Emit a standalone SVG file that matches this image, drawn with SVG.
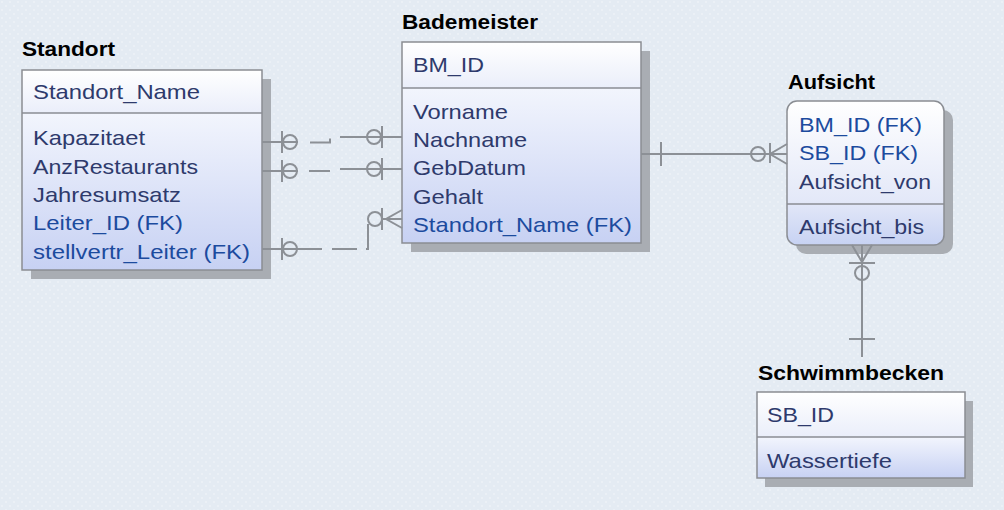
<svg xmlns="http://www.w3.org/2000/svg" width="1004" height="510" viewBox="0 0 1004 510">
<defs>
<pattern id="dots" width="8" height="8" patternUnits="userSpaceOnUse">
<rect width="8" height="8" fill="#e4ebf3"/>
<circle cx="2" cy="2" r="1.2" fill="#ecf1f7"/>
<circle cx="6" cy="6" r="1.2" fill="#ecf1f7"/>
</pattern>
<linearGradient id="hdr" x1="0" y1="0" x2="0" y2="1">
<stop offset="0" stop-color="#ffffff"/>
<stop offset="1" stop-color="#eaeefa"/>
</linearGradient>
<linearGradient id="body" x1="0" y1="0" x2="0" y2="1">
<stop offset="0" stop-color="#f2f5fd"/>
<stop offset="1" stop-color="#c7d1f3"/>
</linearGradient>
<linearGradient id="aufs" x1="0" y1="0" x2="0" y2="1">
<stop offset="0" stop-color="#ffffff"/>
<stop offset="0.7" stop-color="#e3e8f8"/>
<stop offset="1" stop-color="#c7d2f3"/>
</linearGradient>
</defs>
<style>
.shadow{fill:#a9adb3}
.box{stroke:#8a8d93;stroke-width:1.5}
.div{stroke:#8a8d93;stroke-width:1.5}
.title{font-family:"Liberation Sans",Arial,sans-serif;font-weight:bold;font-size:20px;fill:#000}
.att{font-family:"Liberation Sans",Arial,sans-serif;font-size:21px;fill:#2e3a6c}
.fk{fill:#1c4b9e}
.cn{fill:none;stroke:#8c9096;stroke-width:2}
</style>
<rect width="1004" height="510" fill="url(#dots)"/>

<g id="Standort">
<rect class="shadow" x="31" y="79" width="240" height="200"/>
<rect x="22" y="70" width="240" height="43" fill="url(#hdr)"/>
<rect x="22" y="113" width="240" height="157" fill="url(#body)"/>
<rect class="box" x="22" y="70" width="240" height="200" fill="none"/>
<line class="div" x1="22" y1="113" x2="262" y2="113"/>
<text class="title" x="22" y="56" textLength="93" lengthAdjust="spacingAndGlyphs">Standort</text>
<text class="att" x="33" y="99" textLength="167" lengthAdjust="spacingAndGlyphs">Standort_Name</text>
<text class="att" x="33" y="145" textLength="112" lengthAdjust="spacingAndGlyphs">Kapazitaet</text>
<text class="att" x="33" y="173.5" textLength="165" lengthAdjust="spacingAndGlyphs">AnzRestaurants</text>
<text class="att" x="33" y="202" textLength="148" lengthAdjust="spacingAndGlyphs">Jahresumsatz</text>
<text class="att fk" x="33" y="230" textLength="150" lengthAdjust="spacingAndGlyphs">Leiter_ID (FK)</text>
<text class="att fk" x="33" y="258.5" textLength="217" lengthAdjust="spacingAndGlyphs">stellvertr_Leiter (FK)</text>
</g>

<g id="Bademeister">
<rect class="shadow" x="411" y="51" width="239" height="201"/>
<rect x="402" y="42" width="239" height="46" fill="url(#hdr)"/>
<rect x="402" y="88" width="239" height="155" fill="url(#body)"/>
<rect class="box" x="402" y="42" width="239" height="201" fill="none"/>
<line class="div" x1="402" y1="88" x2="641" y2="88"/>
<text class="title" x="402" y="29" textLength="136" lengthAdjust="spacingAndGlyphs">Bademeister</text>
<text class="att" x="413" y="72" textLength="71" lengthAdjust="spacingAndGlyphs">BM_ID</text>
<text class="att" x="413" y="118.5" textLength="95" lengthAdjust="spacingAndGlyphs">Vorname</text>
<text class="att" x="413" y="147" textLength="114" lengthAdjust="spacingAndGlyphs">Nachname</text>
<text class="att" x="413" y="175" textLength="113" lengthAdjust="spacingAndGlyphs">GebDatum</text>
<text class="att" x="413" y="203.5" textLength="70" lengthAdjust="spacingAndGlyphs">Gehalt</text>
<text class="att fk" x="413" y="232" textLength="219" lengthAdjust="spacingAndGlyphs">Standort_Name (FK)</text>
</g>

<g id="Aufsicht">
<rect class="shadow" x="796" y="110" width="157" height="144" rx="10"/>
<rect class="box" x="787" y="101" width="157" height="144" rx="10" fill="url(#aufs)"/>
<line class="div" x1="787" y1="204" x2="944" y2="204"/>
<text class="title" x="788" y="89" textLength="87" lengthAdjust="spacingAndGlyphs">Aufsicht</text>
<text class="att fk" x="799" y="131.5" textLength="123" lengthAdjust="spacingAndGlyphs">BM_ID (FK)</text>
<text class="att fk" x="799" y="160" textLength="119" lengthAdjust="spacingAndGlyphs">SB_ID (FK)</text>
<text class="att" x="799" y="188.5" textLength="132" lengthAdjust="spacingAndGlyphs">Aufsicht_von</text>
<text class="att" x="799" y="234" textLength="125" lengthAdjust="spacingAndGlyphs">Aufsicht_bis</text>
</g>

<g id="Schwimmbecken">
<rect class="shadow" x="765" y="401" width="208" height="86"/>
<rect x="757" y="392" width="208" height="45" fill="url(#hdr)"/>
<rect x="757" y="437" width="208" height="41" fill="url(#body)"/>
<rect class="box" x="757" y="392" width="208" height="86" fill="none"/>
<line class="div" x1="757" y1="437" x2="965" y2="437"/>
<text class="title" x="758" y="379.5" textLength="186" lengthAdjust="spacingAndGlyphs">Schwimmbecken</text>
<text class="att" x="767" y="421.5" textLength="67" lengthAdjust="spacingAndGlyphs">SB_ID</text>
<text class="att" x="767" y="467.5" textLength="125" lengthAdjust="spacingAndGlyphs">Wassertiefe</text>
</g>

<g id="connectors">
<g id="c-bm-aufsicht">
<path class="cn" d="M641,154 H787"/>
<path class="cn" d="M661,142 V166"/>
<circle class="cn" cx="758" cy="154" r="7"/>
<path class="cn" d="M770,143 V163"/>
<path class="cn" d="M787,144 L770,154 L787,164"/>
</g>
<g id="c-sb-aufsicht">
<path class="cn" d="M862,245 V357"/>
<path class="cn" d="M849,339 H875"/>
<path class="cn" d="M849,263 H875"/>
<circle class="cn" cx="862" cy="273" r="7"/>
<path class="cn" d="M852,245 L862,262 L872,245"/>
</g>
<g id="c-kapazitaet">
<path class="cn" d="M262,142 H298"/>
<path class="cn" d="M282,131 V153"/>
<circle class="cn" cx="290" cy="142" r="7"/>
<path class="cn" d="M310,142.5 H330 V138.5"/>
<path class="cn" d="M340,137 H402"/>
<circle class="cn" cx="374" cy="137" r="7"/>
<path class="cn" d="M382,126 V148"/>
</g>
<g id="c-anz">
<path class="cn" d="M262,171 H298"/>
<path class="cn" d="M282,160 V182"/>
<circle class="cn" cx="290" cy="171" r="7"/>
<path class="cn" d="M309,171 H329 V172"/>
<path class="cn" d="M340,169 H402"/>
<circle class="cn" cx="374" cy="169" r="7"/>
<path class="cn" d="M382,158 V180"/>
</g>
<g id="c-stellvertr">
<path class="cn" d="M262,249 H322"/>
<path class="cn" d="M282,238 V260"/>
<circle class="cn" cx="290" cy="249" r="7"/>
<path class="cn" d="M332,249 H357"/>
<path class="cn" d="M366,249 H368 V224"/>
<circle class="cn" cx="375" cy="219" r="7"/>
<path class="cn" d="M382,208 V230"/>
<path class="cn" d="M382,219 H402"/>
<path class="cn" d="M402,210 L386,219 L402,228"/>
</g>
</g>
</svg>
